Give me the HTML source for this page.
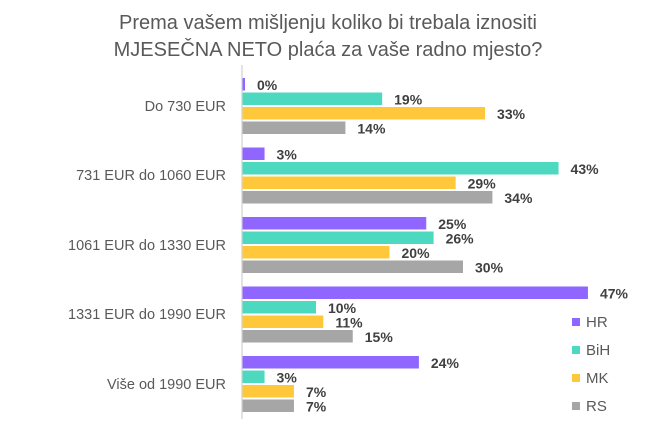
<!DOCTYPE html>
<html><head><meta charset="utf-8"><style>
body{margin:0;background:#fff;}
</style></head><body>
<svg width="649" height="419" xmlns="http://www.w3.org/2000/svg" font-family="Liberation Sans, sans-serif">
<rect width="649" height="419" fill="#fff"/>
<text x="328" y="29" font-size="20" fill="#595959" text-anchor="middle">Prema vašem mišljenju koliko bi trebala iznositi</text>
<text x="328" y="56" font-size="20" fill="#595959" text-anchor="middle">MJESEČNA NETO plaća za vaše radno mjesto?</text>
<line x1="242" y1="65" x2="242" y2="419" stroke="#d9d9d9" stroke-width="1.5"/>
<g font-size="14.5" fill="#595959" text-anchor="end">
<text x="226" y="111">Do 730 EUR</text>
<text x="226" y="180">731 EUR do 1060 EUR</text>
<text x="226" y="250">1061 EUR do 1330 EUR</text>
<text x="226" y="319">1331 EUR do 1990 EUR</text>
<text x="226" y="389">Više od 1990 EUR</text>
</g>
<g id="bars"></g>
<g font-size="14" font-weight="bold" fill="#404040" id="labels"></g>
<g font-size="15" fill="#595959">
<rect x="572" y="318" width="8" height="8" fill="#8f66ff"/><text x="586" y="327">HR</text>
<rect x="572" y="346" width="8" height="8" fill="#4dd8c0"/><text x="586" y="355">BiH</text>
<rect x="572" y="374" width="8" height="8" fill="#ffc83a"/><text x="586" y="383">MK</text>
<rect x="572" y="402" width="8" height="8" fill="#a6a6a6"/><text x="586" y="411">RS</text>
</g>
<script>
var d=[[0,19,33,14],[3,43,29,34],[25,26,20,30],[47,10,11,15],[24,3,7,7]];
var c=["#8f66ff","#4dd8c0","#ffc83a","#a6a6a6"];
var tops=[78,147.5,217,286.5,356];
var b=document.getElementById("bars"),l=document.getElementById("labels"),ns="http://www.w3.org/2000/svg";
d.forEach(function(g,i){g.forEach(function(v,j){
var y=tops[i]+j*14.5,w=Math.max(v*7.35,2.5);
var r=document.createElementNS(ns,"rect");r.setAttribute("x",242.5);r.setAttribute("y",y);r.setAttribute("width",w);r.setAttribute("height",12.5);r.setAttribute("fill",c[j]);b.appendChild(r);
var t=document.createElementNS(ns,"text");t.setAttribute("x",242.5+w+12);t.setAttribute("y",y+12);t.textContent=v+"%";l.appendChild(t);
});});
</script>
</svg>
</body></html>
